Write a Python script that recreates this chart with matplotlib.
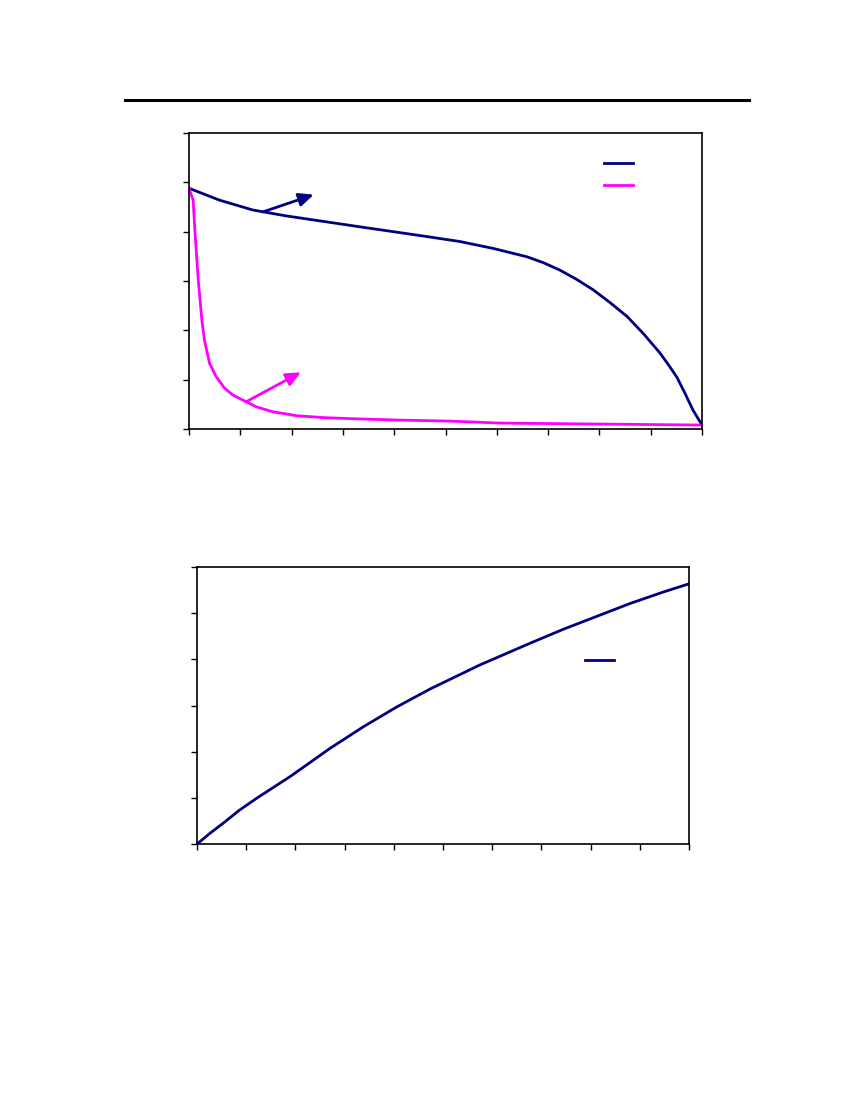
import matplotlib
matplotlib.use('Agg')
import matplotlib.pyplot as plt
from matplotlib.lines import Line2D

# top chart: two decaying curves
blue_x = [0, 0.59, 1.24, 1.89, 2.54, 3.45, 3.98, 4.64, 5.28, 5.93, 6.59, 6.91, 7.23, 7.56,
          7.88, 8.21, 8.54, 8.86, 9.18, 9.34, 9.51, 9.67, 9.82, 10]
blue_y = [4.88, 4.64, 4.44, 4.32, 4.22, 4.08, 4.00, 3.90, 3.80, 3.66, 3.49, 3.37, 3.22, 3.03,
          2.82, 2.56, 2.28, 1.93, 1.54, 1.31, 1.05, 0.72, 0.39, 0.08]

pink_x = [0, 0.08, 0.12, 0.18, 0.25, 0.30, 0.40, 0.53, 0.69, 0.85, 1.08, 1.31, 1.63, 2.09,
          2.64, 3.14, 4.11, 5.09, 6.06, 8.01, 10]
pink_y = [4.88, 4.64, 3.93, 3.02, 2.21, 1.80, 1.33, 1.06, 0.83, 0.69, 0.57, 0.45, 0.35, 0.27,
          0.23, 0.21, 0.18, 0.16, 0.12, 0.10, 0.08]

# bottom chart: rising curve
low_x = [0, 0.26, 0.53, 0.87, 1.21, 1.89, 2.70, 3.38, 4.06, 4.74, 5.75, 6.77, 7.44, 7.78,
         8.46, 8.80, 9.48, 9.98]
low_y = [0, 0.23, 0.45, 0.74, 0.99, 1.46, 2.07, 2.54, 2.97, 3.36, 3.88, 4.35, 4.65, 4.79,
         5.07, 5.21, 5.46, 5.63]

x_ticks = list(range(0, 11))
y_ticks = list(range(0, 7))

navy = '#000080'
magenta = '#FF00FF'


def style_axes(ax):
    ax.set_xlim(0, 10)
    ax.set_ylim(0, 6)
    ax.set_xticks(x_ticks)
    ax.set_yticks(y_ticks)
    ax.set_xticklabels([])
    ax.set_yticklabels([])
    ax.tick_params(direction='out', length=4, width=1, color='black')
    for s in ax.spines.values():
        s.set_linewidth(1.2)
        s.set_color('black')


arrow_style = '-|>,head_length=0.55,head_width=0.25'

fig = plt.figure(figsize=(8.5, 11), dpi=100)

# rule at the top of the page
fig.add_artist(Line2D([0.147, 0.881], [0.9091, 0.9091], color='black', lw=2.2))

ax1 = fig.add_axes([0.2224, 0.61, 0.6035, 0.2691])
style_axes(ax1)
l1, = ax1.plot(blue_x, blue_y, color=navy, lw=2)
l2, = ax1.plot(pink_x, pink_y, color=magenta, lw=2)
ax1.annotate('', xy=(2.43, 4.75), xytext=(1.44, 4.40),
             arrowprops=dict(arrowstyle=arrow_style, color=navy, lw=2, mutation_scale=16,
                             shrinkA=0, shrinkB=0))
ax1.annotate('', xy=(2.18, 1.15), xytext=(1.11, 0.55),
             arrowprops=dict(arrowstyle=arrow_style, color=magenta, lw=2, mutation_scale=16,
                             shrinkA=0, shrinkB=0))
ax1.legend([l1, l2], ['', ''], loc='center', bbox_to_anchor=(0.837, 0.858),
           frameon=False, handlelength=2.1, handletextpad=0, borderpad=0,
           labelspacing=0.6, fontsize=10)

ax2 = fig.add_axes([0.2318, 0.2327, 0.5788, 0.2518])
style_axes(ax2)
l3, = ax2.plot(low_x, low_y, color=navy, lw=2)
ax2.legend([l3], [''], loc='center', bbox_to_anchor=(0.818, 0.661),
           frameon=False, handlelength=2.1, handletextpad=0, borderpad=0, fontsize=10)

fig.savefig('out.png', dpi=100)
